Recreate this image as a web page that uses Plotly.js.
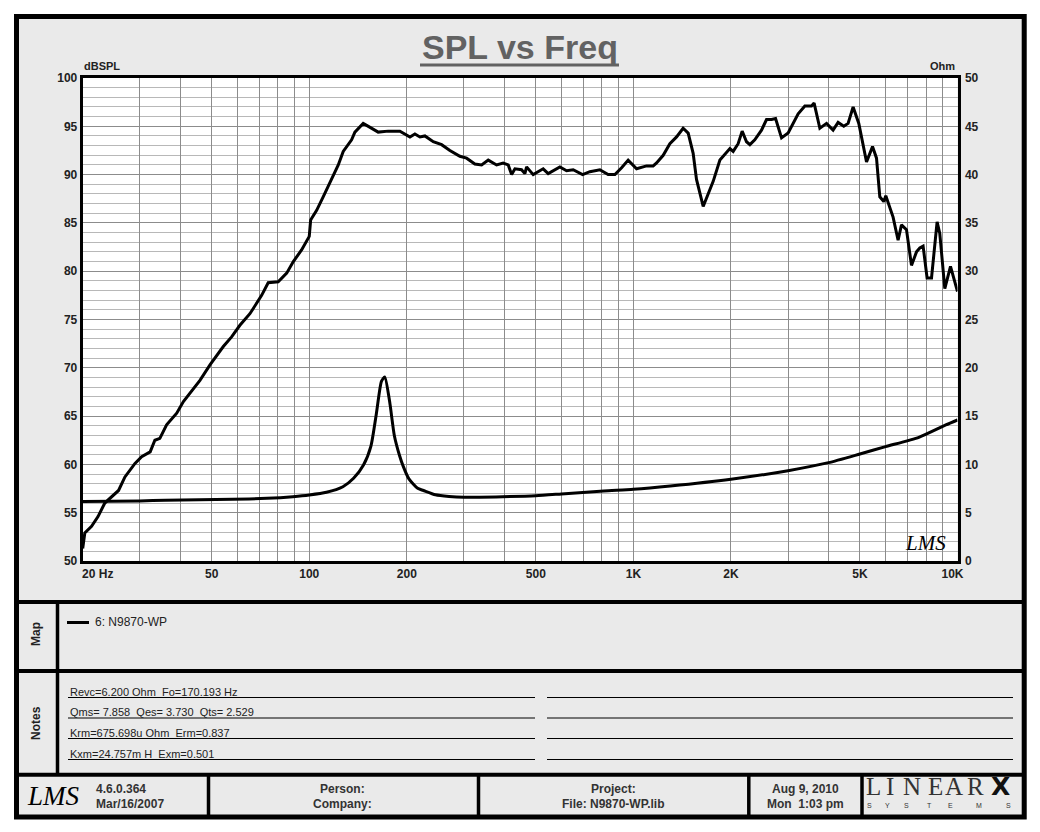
<!DOCTYPE html>
<html>
<head>
<meta charset="utf-8">
<script src="https://cdn.plot.ly/plotly-3.0.1.min.js"></script>
<style>
html,body{margin:0;padding:0;background:#ffffff;}
#chart{width:1040px;height:832px;}
</style>
</head>
<body>
<div id="chart"></div>
<script>
// ---------------- DATA ----------------
// SPL response (Hz, dBSPL) – left axis
const splFreq = [20, 20.3, 21.3, 22.3, 23.4, 24.3, 25.8, 27.0, 29.0, 30.4,
  32.3, 33.4, 34.6, 36.3, 39.0, 40.9, 42.9, 46.0, 49.4, 54.3,
  57.6, 61.1, 65.6, 68.8, 71.3, 74.7, 80.2, 85.2, 89.3, 94.7,
  100, 101, 105.4, 110.4, 117.2, 122.9, 127.3, 135.1, 138.3, 146.7,
  150.3, 155.7, 163.2, 175.2, 190.4, 204.5, 211.8, 219.5, 227.4, 241.3,
  256.1, 271.6, 291.6, 305.8, 324.3, 340.2, 356.6, 378.4, 396.6, 411.0,
  421.1, 431.1, 451.9, 462.7, 468.3, 490.8, 526.9, 546.0, 593.3, 622.2,
  652.1, 697.2, 734.2, 788.2, 835.9, 877.0, 919.7, 963.6, 1023, 1098,
  1151, 1179, 1236, 1296, 1359, 1424, 1476, 1529, 1566, 1642,
  1701, 1763, 1849, 1985, 2032, 2105, 2166, 2234, 2288, 2369,
  2485, 2575, 2669, 2746, 2865, 3002, 3224, 3381, 3545, 3611,
  3761, 3944, 4132, 4282, 4459, 4597, 4764, 4960, 5240, 5468,
  5625, 5758, 5924, 6009, 6328, 6557, 6717, 6959, 7212, 7473,
  7651, 7832, 8057, 8314, 8651, 8818, 9137, 9515, 10000];
const splDb = [51.3, 52.9, 53.6, 54.6, 56.0, 56.5, 57.3, 58.7, 60.1, 60.8,
  61.3, 62.5, 62.7, 64.1, 65.3, 66.5, 67.4, 68.7, 70.3, 72.2,
  73.2, 74.4, 75.6, 76.7, 77.5, 78.8, 78.9, 79.8, 81.0, 82.2,
  83.6, 85.3, 86.3, 87.7, 89.6, 91.0, 92.4, 93.6, 94.4, 95.3,
  95.1, 94.8, 94.4, 94.5, 94.5, 93.9, 94.2, 93.9, 94.0, 93.4,
  93.1, 92.5, 91.9, 91.7, 91.1, 91.0, 91.5, 91.0, 91.2, 91.0,
  90.0, 90.6, 90.5, 90.1, 90.8, 90.0, 90.6, 90.1, 90.8, 90.4,
  90.5, 90.0, 90.3, 90.5, 90.0, 90.0, 90.7, 91.5, 90.6, 90.9,
  90.9, 91.2, 92.0, 93.2, 93.9, 94.8, 94.3, 92.2, 89.5, 86.7,
  88.1, 89.3, 91.5, 92.7, 92.4, 93.2, 94.5, 93.4, 93.1, 93.6,
  94.6, 95.7, 95.7, 95.8, 93.8, 94.3, 96.3, 97.1, 97.1, 97.4,
  94.8, 95.3, 94.6, 95.4, 95.0, 95.3, 97.0, 95.3, 91.3, 92.9,
  91.7, 87.7, 87.2, 87.8, 85.6, 83.2, 84.8, 84.3, 80.6, 82.0,
  82.4, 82.6, 79.3, 79.3, 85.1, 83.9, 78.2, 80.5, 77.9];

// Impedance (Hz, Ohm) – right axis
const impFreq = [20, 30, 36, 58, 74, 89, 100, 113, 127, 137,
  147, 155, 161, 167, 171, 177, 183, 190, 195, 203,
  216, 225, 245, 270, 300, 395, 500, 600, 810, 1000,
  1300, 2000, 3000, 4000, 5000, 6000, 7600, 9200, 10000];
const impOhm = [6.15, 6.22, 6.3, 6.38, 6.49, 6.66, 6.83, 7.11, 7.69, 8.56,
  9.94, 11.9, 15.2, 18.6, 19.05, 16.5, 13.0, 10.9, 9.8, 8.5,
  7.52, 7.3, 6.85, 6.68, 6.6, 6.66, 6.76, 6.94, 7.25, 7.42,
  7.76, 8.46, 9.35, 10.18, 11.08, 11.84, 12.8, 14.08, 14.6];

// Axis ticks
const xGridVals = [20,30,40,50,60,70,80,90,100,200,300,400,500,600,700,800,900,
  1000,2000,3000,4000,5000,6000,7000,8000,9000,10000];
const xLabelMap = {20:'20 Hz',50:'50',100:'100',200:'200',500:'500',1000:'1K',2000:'2K',5000:'5K',10000:'10K'};
const ohmTicks = [0,5,10,15,20,25,30,35,40,45,50];

// Texts
const titleText = 'SPL vs Freq';
const leftAxisTitle = 'dBSPL';
const rightAxisTitle = 'Ohm';
const legendName = '6: N9870-WP';
const notesLines = [
  'Revc=6.200 Ohm  Fo=170.193 Hz',
  'Qms= 7.858  Qes= 3.730  Qts= 2.529',
  'Krm=675.698u Ohm  Erm=0.837',
  'Kxm=24.757m H  Exm=0.501'
];
const footerVersion = ['4.6.0.364', 'Mar/16/2007'];
const footerPerson = ['Person:', 'Company:'];
const footerProject = ['Project:', 'File: N9870-WP.lib'];
const footerDate = ['Aug 9, 2010', 'Mon  1:03 pm'];

// ---------------- LAYOUT HELPERS ----------------
const W = 1040, H = 832;
const px = x => x / W;
const py = y => 1 - y / H;
const nb = s => s.replace(/ /g, '\u00a0');
const FONT = 'Liberation Sans, Arial, sans-serif';

const xTickText = xGridVals.map(v => {
  const t = xLabelMap[v] || '';
  if (v === 20) return '\u00a0'.repeat(9) + nb(t);
  if (v === 10000) return t + '\u00a0'.repeat(3);
  return t;
});

const shapes = [];
const annotations = [];
function line(x0, y0, x1, y1, w, c) {
  shapes.push({type:'line', xref:'paper', yref:'paper', x0:px(x0), y0:py(y0), x1:px(x1), y1:py(y1),
    line:{color:c || '#000', width:w}, layer:'above'});
}
function rect(x0, y0, x1, y1, fill) {
  shapes.push({type:'rect', xref:'paper', yref:'paper', x0:px(x0), y0:py(y0), x1:px(x1), y1:py(y1),
    line:{width:0}, fillcolor:fill, layer:'below'});
}
function text(t, x, y, opts) {
  opts = opts || {};
  annotations.push({
    xref:'paper', yref:'paper', x:px(x), y:py(y), text:t, showarrow:false,
    xanchor:opts.xa || 'left', yanchor:opts.ya || 'middle',
    textangle:opts.angle || 0,
    font:{family:opts.family || FONT, size:opts.size || 12, color:opts.color || '#222',
      weight:opts.weight || 'normal', style:opts.style || 'normal'}
  });
}

// white surround outside frame
rect(0, 0, 1040, 14, '#ffffff');
rect(0, 819, 1040, 832, '#ffffff');
rect(0, 0, 14, 832, '#ffffff');
rect(1027, 0, 1040, 832, '#ffffff');

// outer frame
shapes.push({type:'rect', xref:'paper', yref:'paper', x0:px(16.5), y0:py(16.5), x1:px(1024.2), y1:py(817),
  line:{color:'#000', width:5}, fillcolor:'rgba(0,0,0,0)', layer:'above'});

// section dividers
line(16.5, 602, 1024.2, 602, 4);
line(16.5, 671, 1024.2, 671, 4);
line(16.5, 774.7, 1024.2, 774.7, 4);
line(57.5, 602, 57.5, 774.7, 3.5);
[208.5, 478.5, 748.8, 862].forEach(x => line(x, 774.7, x, 817, 3.5));

// title
text('<b>' + titleText + '</b>', 520, 47, {xa:'center', size:34, color:'#626262'});
line(420, 65, 619, 65, 3, '#626262');

// axis titles
text('<b>' + leftAxisTitle + '</b>', 82, 66, {size:11});
text('<b>' + rightAxisTitle + '</b>', 957, 66, {xa:'right', size:11});

// LMS signature in plot
text('<i>LMS</i>', 925, 543, {xa:'center', size:21, family:'Liberation Serif, serif', color:'#000'});

// Map / Notes labels
text('<b>Map</b>', 36, 634, {xa:'center', angle:-90, size:12});
text('<b>Notes</b>', 36, 723, {xa:'center', angle:-90, size:12});

// legend
line(67, 622.5, 89, 622.5, 3);
text(legendName, 93, 622, {size:12});

// notes
const noteY = [697.5, 718, 738.5, 759.5];
notesLines.forEach((t, i) => {
  text(nb(t), 68, noteY[i] - 6, {size:11});
  line(68, noteY[i], 535, noteY[i], 1);
  line(547, noteY[i], 1013, noteY[i], 1);
});

// footer
text('<i>LMS</i>', 53, 796, {xa:'center', size:27, family:'Liberation Serif, serif', color:'#000'});
text('<b>' + footerVersion[0] + '</b>', 94, 788.5, {size:12, color:'#333'});
text('<b>' + footerVersion[1] + '</b>', 94, 803.5, {size:12, color:'#333'});
text('<b>' + footerPerson[0] + '</b>', 342, 788.5, {xa:'center', size:12, color:'#333'});
text('<b>' + footerPerson[1] + '</b>', 342, 803.5, {xa:'center', size:12, color:'#333'});
text('<b>' + footerProject[0] + '</b>', 613, 788.5, {xa:'center', size:12, color:'#333'});
text('<b>' + footerProject[1] + '</b>', 613, 803.5, {xa:'center', size:12, color:'#333'});
text('<b>' + footerDate[0] + '</b>', 805, 788.5, {xa:'center', size:12, color:'#333'});
text('<b>' + nb(footerDate[1]) + '</b>', 805, 803.5, {xa:'center', size:12, color:'#333'});

// LINEAR X SYSTEMS logo
const logoLetters = ['L','I','N','E','A','R'];
const logoX = [873, 890, 911.5, 935, 953.5, 975];
logoLetters.forEach((c, i) => text(c, logoX[i], 786, {xa:'center', size:25, family:'Liberation Serif, serif', color:'#333'}));
text('<b>X</b>', 1000, 786, {xa:'center', size:25, family:'DejaVu Sans, sans-serif', color:'#111'});
const sysLetters = ['S','Y','S','T','E','M','S'];
const sysX = [869.5, 887.5, 906.5, 929.5, 950, 978.5, 1008.5];
sysLetters.forEach((c, i) => text(c, sysX[i], 805.5, {xa:'center', size:7, color:'#333'}));

// ---------------- TRACES ----------------
const traces = [
  {x: splFreq, y: splDb, type:'scatter', mode:'lines', name:'SPL',
   line:{color:'#000', width:3}, xaxis:'x', yaxis:'y'},
  {x: impFreq, y: impOhm, type:'scatter', mode:'lines', name:'Impedance',
   line:{color:'#000', width:3, shape:'spline', smoothing:0.6}, xaxis:'x', yaxis:'y2'}
];

const tickFont = {family: FONT, size: 12, color: '#222', weight: 'bold'};
const layout = {
  width: W, height: H,
  margin: {l:0, r:0, t:0, b:0, pad:0},
  paper_bgcolor: '#eaeaea',
  plot_bgcolor: '#ffffff',
  showlegend: false,
  hovermode: false,
  xaxis: {
    type: 'log',
    range: [Math.log10(20), Math.log10(10000)],
    domain: [px(82.7), px(957.5)],
    tickmode: 'array', tickvals: xGridVals, ticktext: xTickText,
    ticks: '', showgrid: true, gridcolor: '#8c8c8c', gridwidth: 1,
    showline: true, linecolor: '#000', linewidth: 3, mirror: true,
    tickfont: tickFont, zeroline: false, fixedrange: true
  },
  yaxis: {
    range: [50, 100],
    domain: [py(561), py(78)],
    tickmode: 'linear', tick0: 50, dtick: 5,
    ticks: '', showgrid: true, gridcolor: '#8c8c8c', gridwidth: 1,
    minor: {dtick: 1, showgrid: true, gridcolor: '#b8b8b8', gridwidth: 1, ticks: ''},
    showline: true, linecolor: '#000', linewidth: 3, mirror: true,
    tickfont: tickFont, zeroline: false, fixedrange: true
  },
  yaxis2: {
    range: [0, 50],
    overlaying: 'y', side: 'right', anchor: 'free', position: px(958.5),
    tickmode: 'array', tickvals: ohmTicks, ticktext: ohmTicks.map(String),
    ticks: 'outside', ticklen: 3, tickcolor: 'rgba(0,0,0,0)',
    ticklabelposition: 'outside',
    showgrid: false, showline: false,
    tickfont: tickFont, zeroline: false, fixedrange: true
  },
  shapes: shapes,
  annotations: annotations
};

Plotly.newPlot('chart', traces, layout, {staticPlot: true, displayModeBar: false});
</script>
</body>
</html>
